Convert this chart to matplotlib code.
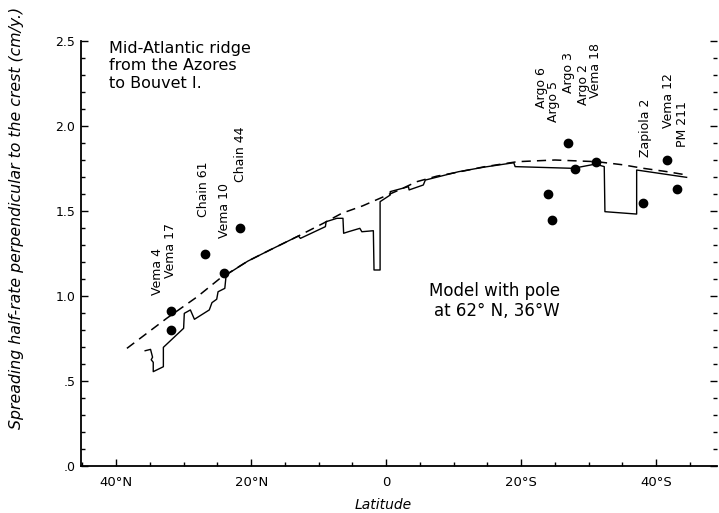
import matplotlib
matplotlib.use("Agg")
import matplotlib.pyplot as plt
from matplotlib.ticker import MultipleLocator, FixedLocator

# Latitude axis: south is positive, north is negative
model_lat = [-38.4, -32.5, -28.0, -24.6, -20.5, -17.2, -13.0, -9.3, -6.6, -3.5,
             -0.9, 2.0, 4.5, 7.5, 10.7, 14.5, 19.4, 25.0, 31.2, 35.0, 38.1, 41.5, 44.5]
model_rate = [0.692, 0.869, 0.995, 1.104, 1.205, 1.271, 1.353, 1.428, 1.486, 1.530,
              1.575, 1.625, 1.672, 1.705, 1.729, 1.760, 1.790, 1.800, 1.790, 1.772,
              1.751, 1.732, 1.712]

ridge_lat = [-35.7, -34.9, -34.6, -34.8, -34.5, -34.5, -33.0, -33.0, -30.0, -29.9,
             -29.0, -28.4, -26.2, -25.8, -25.1, -24.9, -23.9, -23.7, -20.5, -17.2,
             -13.0, -12.7, -9.0, -8.9, -7.3, -6.4, -6.3, -5.6, -3.9, -3.6, -1.9,
             -1.8, -0.9, -0.9, 0.6, 0.6, 3.3, 3.4, 5.5, 5.8, 10.7, 14.5, 18.9,
             19.1, 27.7, 31.0, 32.3, 32.4, 37.1, 37.1, 44.5]
ridge_rate = [0.678, 0.686, 0.640, 0.625, 0.610, 0.555, 0.584, 0.698, 0.810, 0.898,
              0.918, 0.863, 0.918, 0.961, 0.981, 1.025, 1.045, 1.124, 1.205, 1.271,
              1.353, 1.339, 1.408, 1.437, 1.457, 1.457, 1.369, 1.378, 1.398, 1.378,
              1.384, 1.153, 1.153, 1.555, 1.594, 1.614, 1.643, 1.624, 1.653, 1.682,
              1.731, 1.758, 1.784, 1.761, 1.751, 1.776, 1.761, 1.496, 1.482, 1.741,
              1.698]

obs_lat = [-31.9, -31.9, -26.8, -24.0, -21.6, 24.0, 24.6, 26.9, 27.9, 31.1, 38.1, 41.6, 43.1]
obs_rate = [0.91, 0.80, 1.25, 1.135, 1.40, 1.60, 1.45, 1.90, 1.745, 1.786, 1.55, 1.80, 1.63]

# Station names with the anchor of each rotated label (base of the text)
station_names = ["Vema 4", "Vema 17", "Chain 61", "Vema 10", "Chain 44",
                 "Argo 6", "Argo 5", "Argo 3", "Argo 2", "Vema 18",
                 "Zapiola 2", "Vema 12", "PM 211"]
label_lat = [-33.9, -32.0, -27.0, -24.0, -21.6, 23.0, 24.8, 27.0, 29.2, 31.0, 38.4, 41.8, 43.9]
label_rate = [1.006, 1.106, 1.465, 1.341, 1.671, 2.106, 2.024, 2.194, 2.124, 2.165, 1.818, 1.988, 1.876]

xtick_pos = [-40, -20, 0, 20, 40]
xtick_labels = ["40°N", "20°N", "0", "20°S", "40°S"]
ytick_pos = [0.0, 0.5, 1.0, 1.5, 2.0, 2.5]
ytick_labels = [".0", ".5", "1.0", "1.5", "2.0", "2.5"]

fig = plt.figure(figsize=(7.19, 5.13), dpi=100)
ax = fig.add_axes([81 / 719, 1 - 466 / 513, (717 - 81) / 719, (466 - 41) / 513])

ax.plot(model_lat, model_rate, color="black", lw=1.1, ls=(0, (6, 4)))
ax.plot(ridge_lat, ridge_rate, color="black", lw=1.0)
ax.plot(obs_lat, obs_rate, "o", color="black", ms=6)

for name, lx, ly in zip(station_names, label_lat, label_rate):
    ax.text(lx, ly, name, rotation=90, ha="center", va="bottom", fontsize=9)

ax.text(-41.0, 2.50, "Mid-Atlantic ridge\nfrom the Azores\nto Bouvet I.",
        ha="left", va="top", fontsize=11.5, linespacing=1.2)
ax.text(16.0, 0.97, "Model with pole\nat 62° N, 36°W",
        ha="center", va="center", fontsize=12, linespacing=1.15, multialignment="right")

ax.set_xlim(-45.2, 49.0)
ax.set_ylim(0, 2.5)

ax.xaxis.set_major_locator(FixedLocator(xtick_pos))
ax.set_xticklabels(xtick_labels)
ax.xaxis.set_minor_locator(MultipleLocator(5))
ax.yaxis.set_major_locator(FixedLocator(ytick_pos))
ax.set_yticklabels(ytick_labels)
ax.yaxis.set_minor_locator(MultipleLocator(0.1))

ax.spines["top"].set_visible(False)
ax.spines["right"].set_visible(False)
for s in ("left", "bottom"):
    ax.spines[s].set_linewidth(1.3)

ax.tick_params(axis="both", which="both", direction="in", right=True, top=False)
ax.tick_params(axis="both", which="major", length=5, width=1.0)
ax.tick_params(axis="both", which="minor", length=3, width=1.0)
ax.tick_params(axis="x", labelsize=9.5, pad=7)
ax.tick_params(axis="y", labelsize=9, pad=4)

fig.text(17 / 719, 1 - 218 / 513,
         "Spreading half-rate perpendicular to the crest (cm/y.)",
         rotation=90, ha="center", va="center", fontsize=11.3, style="italic")
fig.text(383 / 719, 1 - 505 / 513, "Latitude", ha="center", va="center",
         fontsize=10, style="italic")

fig.savefig("out.png", dpi=100)
